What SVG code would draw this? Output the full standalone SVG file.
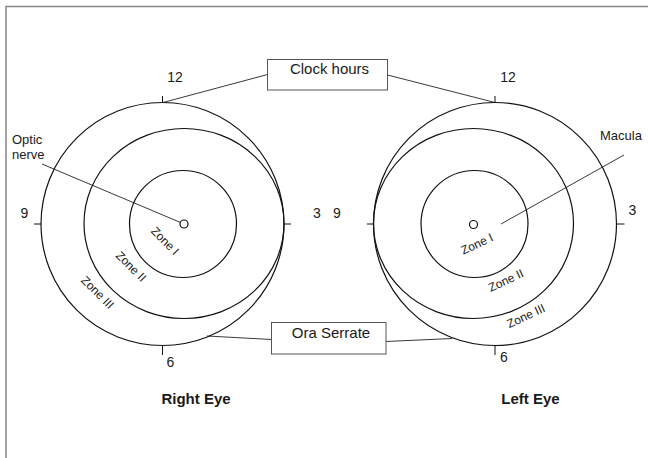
<svg xmlns="http://www.w3.org/2000/svg" width="648" height="458" viewBox="0 0 648 458">
<style>
text{font-family:"Liberation Sans",Arial,sans-serif;fill:#1a1a1a}
.c{fill:none;stroke:#111;stroke-width:1.2}
.t{stroke:#111;stroke-width:1}
.l{stroke:#222;stroke-width:0.9;fill:none}
.box{fill:#fff;stroke:#555;stroke-width:1}
.num{font-size:14px;text-anchor:middle}
.lab{font-size:13px}
.z{font-size:12px;text-anchor:middle}
.bx{font-size:15px;text-anchor:middle}
.eye{font-size:15px;font-weight:bold;text-anchor:middle}
</style>
<rect width="648" height="458" fill="#fff"/>
<path d="M6,458 V6.5 H648" fill="none" stroke="#888" stroke-width="1.5"/>
<g id="connectors">
<line class="l" x1="42" y1="164" x2="180.5" y2="222.5"/>
<line class="l" x1="501" y1="224" x2="624" y2="155"/>
<line class="l" x1="267.5" y1="74.5" x2="163" y2="102.5"/>
<line class="l" x1="387.5" y1="75" x2="495" y2="102.5"/>
<line class="l" x1="271.5" y1="339.5" x2="207" y2="336"/>
<line class="l" x1="386" y1="341.5" x2="452" y2="338.5"/>
</g>
<g id="right-eye">
<circle class="c" cx="162.5" cy="224" r="121.5"/>
<ellipse class="c" cx="184" cy="223.5" rx="100" ry="95"/>
<circle class="c" cx="183" cy="224" r="53.5"/>
<circle class="c" cx="184" cy="224" r="4"/>
<line class="t" x1="162.5" y1="96" x2="162.5" y2="102.5"/>
<line class="t" x1="162.5" y1="345.5" x2="162.5" y2="355"/>
<line class="t" x1="34" y1="224" x2="41" y2="224"/>
<line class="t" x1="284" y1="224" x2="291" y2="224"/>
<text class="num" x="175" y="81.7">12</text>
<text class="num" x="170.5" y="366.5">6</text>
<text class="num" x="24.5" y="218">9</text>
<text class="num" x="317" y="218">3</text>
<text class="z" transform="translate(165,241) rotate(45)" y="4">Zone I</text>
<text class="z" transform="translate(131,266.5) rotate(45)" y="4">Zone II</text>
<text class="z" transform="translate(97.5,292.5) rotate(45)" y="4">Zone III</text>
<text class="eye" x="196" y="404">Right Eye</text>
</g>
<g id="left-eye">
<circle class="c" cx="495" cy="224" r="121.5"/>
<ellipse class="c" cx="473.5" cy="223.5" rx="100" ry="95"/>
<circle class="c" cx="474.5" cy="224" r="53.5"/>
<circle class="c" cx="473.5" cy="224.5" r="4"/>
<line class="t" x1="495" y1="96" x2="495" y2="102.5"/>
<line class="t" x1="495" y1="345.5" x2="495" y2="355"/>
<line class="t" x1="367" y1="224" x2="373.5" y2="224"/>
<line class="t" x1="616.5" y1="224" x2="624.5" y2="224"/>
<text class="num" x="508" y="81.7">12</text>
<text class="num" x="504" y="362">6</text>
<text class="num" x="337" y="218">9</text>
<text class="num" x="632.5" y="215">3</text>
<text class="z" transform="translate(477,244) rotate(-25)" y="4">Zone I</text>
<text class="z" transform="translate(506,280.5) rotate(-25)" y="4">Zone II</text>
<text class="z" transform="translate(526,316) rotate(-25)" y="4">Zone III</text>
<text class="eye" x="530.5" y="404">Left Eye</text>
</g>
<g id="optic-nerve">
<text class="lab" x="12" y="144">Optic</text>
<text class="lab" x="12" y="159">nerve</text>
</g>
<g id="macula">
<text class="lab" x="600" y="139.5">Macula</text>
</g>
<g id="clock-hours">
<rect class="box" x="267.5" y="59.5" width="120" height="30.5"/>
<text class="bx" x="329.5" y="74">Clock hours</text>
</g>
<g id="ora-serrate">
<rect class="box" x="271.5" y="322.5" width="114.5" height="31.5"/>
<text class="bx" x="331" y="337.5">Ora Serrate</text>
</g>
</svg>
